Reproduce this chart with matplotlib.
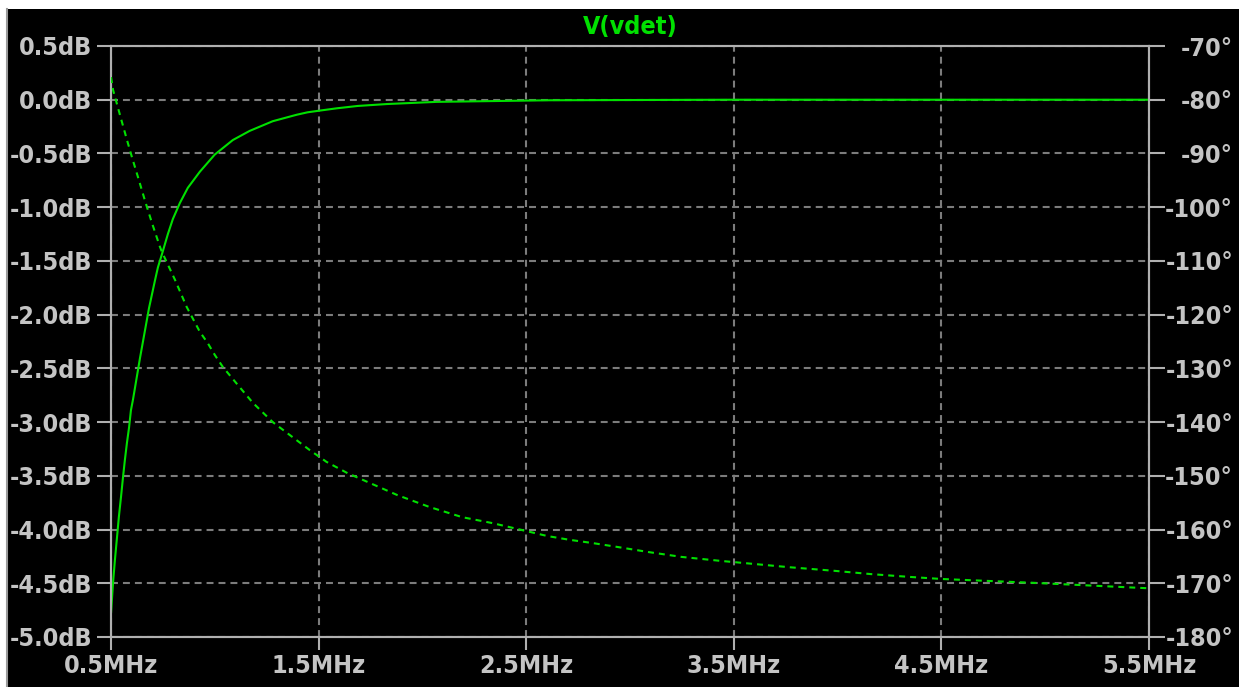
import matplotlib
matplotlib.use("Agg")
import matplotlib.pyplot as plt
from matplotlib.patches import Rectangle
from matplotlib.lines import Line2D

# AC sweep of V(vdet): magnitude in dB (solid) and phase in degrees (dashed)
mag_freq = [0.500, 0.510, 0.519, 0.529, 0.538, 0.548, 0.558, 0.567, 0.577, 0.587,
            0.596, 0.606, 0.640, 0.683, 0.712, 0.726, 0.745, 0.774, 0.798, 0.832,
            0.870, 0.928, 1.000, 1.087, 1.168, 1.279, 1.394, 1.447, 1.510, 1.587,
            1.688, 1.830, 2.067, 2.610, 3.500, 4.500, 5.500]
mag_db = [-4.78, -4.49, -4.28, -4.07, -3.88, -3.70, -3.51, -3.35, -3.19, -3.05,
          -2.89, -2.79, -2.40, -1.94, -1.68, -1.56, -1.44, -1.25, -1.11, -0.96,
          -0.82, -0.67, -0.51, -0.375, -0.29, -0.20, -0.14, -0.117, -0.10, -0.08,
          -0.058, -0.04, -0.02, -0.005, 0.0, 0.0, 0.0]

ph_freq = [0.500, 0.510, 0.543, 0.577, 0.601, 0.630, 0.663, 0.697, 0.736, 0.745,
           0.808, 0.865, 0.928, 0.966, 1.000, 1.038, 1.111, 1.183, 1.279, 1.361,
           1.457, 1.538, 1.639, 1.745, 1.880, 2.034, 2.192, 2.337, 2.481, 2.601,
           2.707, 2.817, 2.933, 3.091, 3.250, 3.428, 3.596, 3.764, 3.990, 4.163,
           4.341, 4.500, 4.933, 5.480, 5.500]
ph_deg = [-75.8, -78.2, -82.8, -87.5, -90.7, -94.4, -98.7, -102.9, -107.4, -108.3,
          -113.5, -118.6, -123.2, -125.3, -127.5, -129.7, -133.1, -136.4, -140.0, -142.4,
          -145.2, -147.4, -149.5, -151.3, -153.6, -155.8, -157.7, -158.8, -160.1, -161.2,
          -161.9, -162.5, -163.2, -164.2, -165.1, -165.8, -166.4, -167.0, -167.7, -168.3,
          -168.8, -169.2, -169.9, -170.9, -170.9]

x_ticks = [0.5, 1.5, 2.5, 3.5, 4.5, 5.5]
x_labels = ["0.5MHz", "1.5MHz", "2.5MHz", "3.5MHz", "4.5MHz", "5.5MHz"]
db_ticks = [0.5, 0.0, -0.5, -1.0, -1.5, -2.0, -2.5, -3.0, -3.5, -4.0, -4.5, -5.0]
db_labels = ["0.5dB", "0.0dB", "-0.5dB", "-1.0dB", "-1.5dB", "-2.0dB",
             "-2.5dB", "-3.0dB", "-3.5dB", "-4.0dB", "-4.5dB", "-5.0dB"]
deg_ticks = [-70, -80, -90, -100, -110, -120, -130, -140, -150, -160, -170, -180]
deg_labels = ["-70°", "-80°", "-90°", "-100°", "-110°", "-120°",
              "-130°", "-140°", "-150°", "-160°", "-170°", "-180°"]
trace_name = "V(vdet)"

plt.rcParams["font.family"] = ["DejaVu Sans"]
plt.rcParams["font.stretch"] = "condensed"
plt.rcParams["font.weight"] = "bold"
plt.rcParams["lines.scale_dashes"] = False

W, H = 1247, 687
fig = plt.figure(figsize=(W / 100, H / 100), dpi=100, facecolor="white")

# black window with a thin grey border on the left, kept behind the axes
fig.patches.append(Rectangle((6 / W, 0), (1239 - 6) / W, (H - 9) / H,
                             transform=fig.transFigure, facecolor="black",
                             edgecolor="none", zorder=-10))
fig.lines.append(Line2D([7 / W, 7 / W], [0, (H - 9) / H], transform=fig.transFigure,
                        color="#9a9a9a", linewidth=1.5, zorder=-9))

left, right, top, bottom = 111, 1149, 46, 637
ax = fig.add_axes([left / W, 1 - bottom / H, (right - left) / W, (bottom - top) / H])
ax2 = ax.twinx()

frame = "#b0b0b0"
text_c = "#c4c4c4"
green = "#00e000"
grid_c = "#7c7c7c"

ax.set_facecolor("black")
ax2.patch.set_visible(False)

ax.plot(mag_freq, mag_db, color=green, linewidth=1.5, zorder=3)
ax2.plot(ph_freq, ph_deg, color=green, linewidth=1.5, linestyle=(0, (4.3, 3.6)), zorder=3)

ax.set_xlim(0.5, 5.5)
ax.set_ylim(-5.0, 0.5)
ax2.set_ylim(-180, -70)

ax.set_xticks(x_ticks, labels=x_labels)
ax.set_yticks(db_ticks, labels=db_labels)
ax2.set_yticks(deg_ticks, labels=deg_labels)

ax.grid(True, color=grid_c, linewidth=1.5, linestyle=(0, (5.0, 3.6)), zorder=1)
ax.set_axisbelow(True)

for a in (ax, ax2):
    for sp in a.spines.values():
        sp.set_color(frame)
        sp.set_linewidth(1.5)

ax.tick_params(axis="x", direction="out", length=9.4, width=1.5, color=frame,
               labelcolor=text_c, labelsize=18, pad=3)
ax.tick_params(axis="y", direction="out", length=10, width=1.5, color=frame,
               labelcolor=text_c, labelsize=18, pad=3.5)
ax2.tick_params(axis="y", direction="out", length=11.5, width=1.5, color=frame,
                labelcolor=text_c, labelsize=18, pad=49)
for lbl in ax2.get_yticklabels():
    lbl.set_horizontalalignment("right")

fig.text((left + right) / 2 / W, 1 - 27 / H, trace_name, color=green,
         fontsize=18, ha="center", va="center")

fig.savefig("out.png", dpi=100, facecolor=fig.get_facecolor())
